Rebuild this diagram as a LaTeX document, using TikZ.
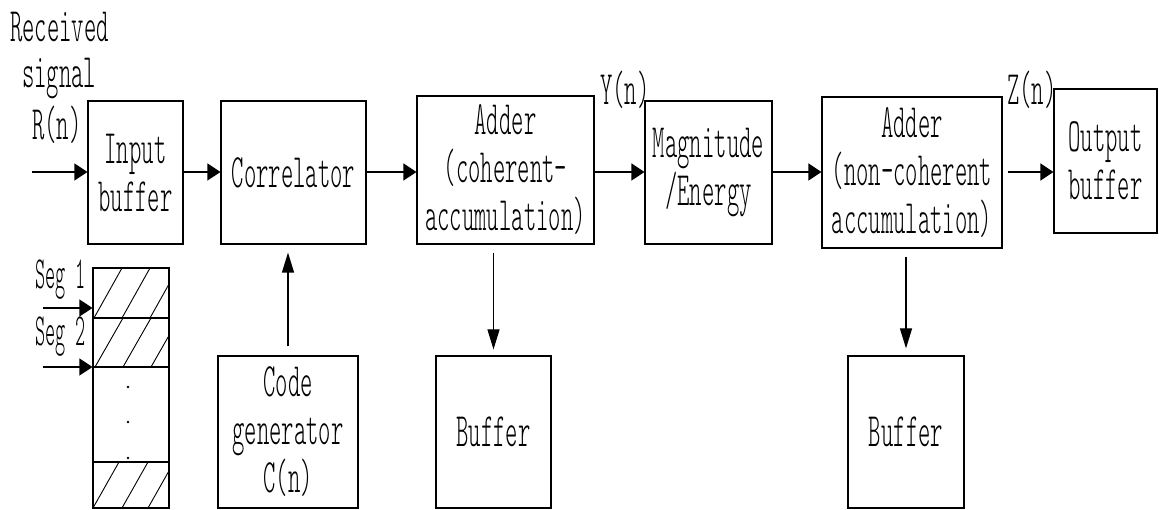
\documentclass[tikz,border=0pt]{standalone}
\usepackage{fontspec}
\usetikzlibrary{arrows.meta}
% narrow fixed-pitch light serif for all labels
\newfontfamily\figfont{lmmonolt10-regular}[Extension=.otf,FakeStretch=0.49]
\newfontfamily\segfont{lmmonolt10-regular}[Extension=.otf,FakeStretch=0.42]

\begin{document}
\begin{tikzpicture}[x=1pt,y=-1pt,
  every node/.style={font=\figfont\fontsize{48}{48}\selectfont},
  box/.style={draw,line width=1.2pt,inner sep=0pt,align=center},
  lbl/.style={inner sep=0pt,anchor=base west},
  seglbl/.style={lbl,font=\segfont\fontsize{46}{48}\selectfont},
  harr/.style={line width=1.2pt,-{Triangle[length=13pt,width=17pt]}},
  varr/.style={line width=1.2pt,-{Triangle[length=20pt,width=12pt]}},
  hatch/.style={line width=0.9pt}
]
\useasboundingbox (0,0) rectangle (1159,510);

% main processing chain
\node[box,minimum width=95pt,minimum height=143pt]  (inbuf)  at (135.5,172.5) {Input\\buffer};
\node[box,minimum width=145pt,minimum height=143pt] (corr)   at (293.5,172.5) {Correlator};
\node[box,minimum width=177pt,minimum height=148pt] (add1)   at (505.5,170)   {Adder\\(coherent-\\accumulation)};
\node[box,minimum width=127pt,minimum height=143pt] (mag)    at (708.5,172.5) {Magnitude\\/Energy};
\node[box,minimum width=180pt,minimum height=151pt] (add2)   at (912,172.5)   {Adder\\(non-coherent\\accumulation)};
\node[box,minimum width=103pt,minimum height=144pt] (outbuf) at (1105.5,161)  {Output\\buffer};

% lower blocks
\node[box,minimum width=140pt,minimum height=152pt] (codegen) at (288,432)   {Code\\generator\\C(n)};
\node[box,minimum width=115pt,minimum height=152pt] (buf1)    at (493.5,432) {Buffer};
\node[box,minimum width=116pt,minimum height=152pt] (buf2)    at (906,432)   {Buffer};

% segmented input memory
\node[box,minimum width=76pt,minimum height=240pt] (segbuf) at (131,388) {};
\draw[line width=1.2pt] (93,318) -- (169,318) (93,367) -- (169,367) (93,462) -- (169,462);
\begin{scope}
  \clip (93,268) rectangle (169,318);
  \foreach \x in {94,122,150} \draw[hatch] (\x,318) -- ++(28,-50);
\end{scope}
\begin{scope}
  \clip (93,318) rectangle (169,367);
  \foreach \x in {95,123,151} \draw[hatch] (\x,367) -- ++(28,-49);
\end{scope}
\begin{scope}
  \clip (93,462) rectangle (169,508);
  \foreach \x in {93,122,148} \draw[hatch] (\x,508) -- ++(26,-46);
\end{scope}
\foreach \y in {387,422,458} \fill (128,\y) circle (1.3pt);

% text labels
\node[lbl] (rcv) at (10,42)   {Received};
\node[lbl] (sig) at (22,88)   {signal};
\node[lbl] (rn)  at (32,140)  {R(n)};
\node[lbl] (yn)  at (600,105) {Y(n)};
\node[lbl] (zn)  at (1007,105){Z(n)};
\node[seglbl] (s1) at (35,289) {Seg 1};
\node[seglbl] (s2) at (35,346) {Seg 2};

% connectors
\coordinate (rin) at (32,172);
\coordinate (s1in) at (43,308);
\coordinate (s2in) at (43,367);
\draw[harr] (rin) -- (rin -| inbuf.west);
\draw[harr] (inbuf.east |- 0,172) -- (corr.west |- 0,172);
\draw[harr] (corr.east |- 0,172) -- (add1.west |- 0,172);
\draw[harr] (add1.east |- 0,172) -- (mag.west |- 0,172);
\draw[harr] (mag.east |- 0,172) -- (add2.west |- 0,172);
\draw[harr,shorten <=5pt] (add2.east |- 0,172) -- (outbuf.west |- 0,172);
\draw[harr] (s1in) -- (s1in -| segbuf.west);
\draw[harr] (s2in) -- (s2in -| segbuf.west);
\draw[varr,shorten <=9pt,shorten >=8pt] (codegen.north) -- (codegen.north |- corr.south);
\draw[varr,shorten <=8pt,shorten >=6pt] (buf1.north |- add1.south) -- (buf1.north);
\draw[varr,shorten <=8pt,shorten >=7pt] (buf2.north |- add2.south) -- (buf2.north);
\end{tikzpicture}
\end{document}
